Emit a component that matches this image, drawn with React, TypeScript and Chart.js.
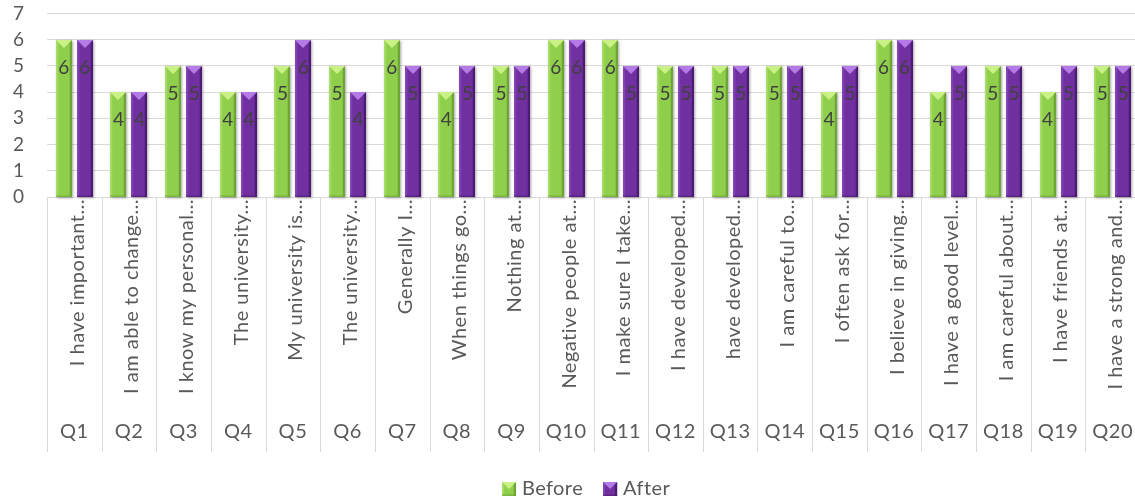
import React, { useEffect, useRef } from "react";
import { Chart, registerables } from "chart.js";

Chart.register(...registerables);

// Survey items, before / after scores
const questions = [
  "Q1", "Q2", "Q3", "Q4", "Q5", "Q6", "Q7", "Q8", "Q9", "Q10",
  "Q11", "Q12", "Q13", "Q14", "Q15", "Q16", "Q17", "Q18", "Q19", "Q20",
];
const statements = [
  "I have important…",
  "I am able to change…",
  "I know my personal…",
  "The university…",
  "My university is…",
  "The university…",
  "Generally I…",
  "When things go…",
  "Nothing at…",
  "Negative people at…",
  "I make sure I take…",
  "I have developed…",
  "have developed…",
  "I am careful to…",
  "I often ask for…",
  "I believe in giving…",
  "I have a good level…",
  "I am careful about…",
  "I have friends at…",
  "I have a strong and…",
];
const beforeScores = [6, 4, 5, 4, 5, 5, 6, 4, 5, 6, 6, 5, 5, 5, 4, 6, 4, 5, 4, 5];
const afterScores = [6, 4, 5, 4, 6, 4, 5, 5, 5, 6, 5, 5, 5, 5, 5, 6, 5, 5, 5, 5];
const seriesNames = ["Before", "After"];
const yMin = 0;
const yMax = 7;

const FONT = "Lato, 'Noto Sans', sans-serif";
const AXIS_TEXT = "#595959";
const LABEL_TEXT = "#404040";
const GRID = "#d9d9d9";

type Palette = { base: string; light: string; dark: string; facet: string };

const palettes: Palette[] = [
  { base: "#90cf4c", light: "#a9dd6a", dark: "#6ea537", facet: "#c9f185" },
  { base: "#7030a0", light: "#8646b8", dark: "#4d1b76", facet: "#b47ae6" },
];

// Paints a box with an angled bevel: lit top facet, light left edge, dark right edge.
function paintBevel(
  ctx: CanvasRenderingContext2D,
  l: number,
  t: number,
  r: number,
  b: number,
  p: Palette,
  shadow = true
) {
  const w = r - l;
  const h = b - t;
  if (w <= 0 || h <= 0) return;
  const cx = (l + r) / 2;
  ctx.save();
  if (shadow) {
    ctx.shadowColor = "rgba(0,0,0,0.35)";
    ctx.shadowBlur = 2.5;
    ctx.shadowOffsetX = 0.8;
    ctx.shadowOffsetY = 0.5;
  }
  ctx.fillStyle = p.base;
  ctx.fillRect(l, t, w, h);
  ctx.restore();

  ctx.save();
  const g = ctx.createLinearGradient(l, 0, r, 0);
  g.addColorStop(0, p.light);
  g.addColorStop(0.18, p.base);
  g.addColorStop(0.78, p.base);
  g.addColorStop(1, p.dark);
  ctx.fillStyle = g;
  ctx.fillRect(l, t, w, h);

  // left and right edge strips
  ctx.fillStyle = p.light;
  ctx.fillRect(l, t, 1.5, h);
  ctx.fillStyle = p.dark;
  ctx.fillRect(r - 2, t, 2, h);
  // bottom lip
  ctx.globalAlpha = 0.6;
  ctx.fillRect(l, b - 1.5, w, 1.5);
  ctx.globalAlpha = 1;

  // top facet
  const depth = Math.min(w * 0.5, h);
  ctx.beginPath();
  ctx.moveTo(l, t);
  ctx.lineTo(r, t);
  ctx.lineTo(cx, t + depth);
  ctx.closePath();
  ctx.fillStyle = p.facet;
  ctx.fill();
  ctx.restore();
}

const bevelBars = {
  id: "bevelBars",
  afterDatasetsDraw(chart: any) {
    const ctx: CanvasRenderingContext2D = chart.ctx;
    const area = chart.chartArea;
    ctx.save();
    ctx.beginPath();
    ctx.rect(area.left - 3, area.top - 3, area.right - area.left + 6, area.bottom - area.top + 6);
    ctx.clip();
    chart.data.datasets.forEach((ds: any, di: number) => {
      const meta = chart.getDatasetMeta(di);
      meta.data.forEach((bar: any) => {
        const { x, y, base, width } = bar.getProps(["x", "y", "base", "width"], true);
        const l = Math.round(x - width / 2);
        const r = Math.round(x + width / 2);
        paintBevel(ctx, l, Math.round(y), r, Math.round(base), palettes[di]);
      });
    });
    // value labels sit just inside the top of each bar
    ctx.fillStyle = LABEL_TEXT;
    ctx.font = `19px ${FONT}`;
    ctx.textAlign = "center";
    ctx.textBaseline = "middle";
    chart.data.datasets.forEach((ds: any, di: number) => {
      const meta = chart.getDatasetMeta(di);
      meta.data.forEach((bar: any, i: number) => {
        const { x, y } = bar.getProps(["x", "y"], true);
        ctx.fillText(String(ds.data[i]), x, y + 28);
      });
    });
    ctx.restore();
  },
};

// Two-level category axis: rotated statements above the question codes, with cell dividers.
const groupedAxis = {
  id: "groupedAxis",
  afterDraw(chart: any) {
    const ctx: any = chart.ctx;
    const xs = chart.scales.x;
    const axisTop = xs.top;
    const axisBottom = xs.bottom;
    const n = chart.data.labels.length;
    ctx.save();
    ctx.strokeStyle = GRID;
    ctx.lineWidth = 1;
    for (let i = 0; i <= n; i++) {
      const px = Math.round(xs.getPixelForValue(i - 0.5)) + 0.5;
      ctx.beginPath();
      ctx.moveTo(px, axisTop);
      ctx.lineTo(px, axisBottom);
      ctx.stroke();
    }
    ctx.fillStyle = AXIS_TEXT;
    ctx.font = `20px ${FONT}`;
    ctx.letterSpacing = "0.5px";
    for (let i = 0; i < n; i++) {
      const cx = xs.getPixelForValue(i);
      ctx.save();
      ctx.translate(cx + 3, axisTop + 2);
      ctx.rotate(-Math.PI / 2);
      ctx.textAlign = "right";
      ctx.textBaseline = "middle";
      ctx.fillText(statements[i], 0, 0);
      ctx.restore();
      ctx.textAlign = "center";
      ctx.textBaseline = "middle";
      ctx.fillText(questions[i], cx, axisBottom - 20);
    }

    // legend
    ctx.font = `20px ${FONT}`;
    ctx.letterSpacing = "0.4px";
    ctx.textAlign = "left";
    ctx.textBaseline = "middle";
    const box = 14;
    const boxGap = 6;
    const itemGap = 20;
    const widths = seriesNames.map((s) => ctx.measureText(s).width);
    const total = widths.reduce((a: number, w: number) => a + box + boxGap + w, 0) + itemGap * (seriesNames.length - 1);
    let lx = Math.round(586 - total / 2);
    const ly = 489;
    seriesNames.forEach((name, i) => {
      paintBevel(ctx, lx, ly - 7, lx + box, ly + 7, palettes[i], false);
      ctx.fillStyle = AXIS_TEXT;
      ctx.fillText(name, lx + box + boxGap, ly);
      lx += box + boxGap + widths[i] + itemGap;
    });
    ctx.restore();
  },
};

export default function App() {
  const ref = useRef<HTMLCanvasElement | null>(null);

  useEffect(() => {
    document.body.style.margin = "0";
    const canvas = ref.current;
    if (!canvas) return;
    const chart = new Chart(canvas, {
      type: "bar",
      data: {
        labels: questions,
        datasets: [
          {
            label: seriesNames[0],
            data: beforeScores,
            backgroundColor: "rgba(0,0,0,0)",
            borderWidth: 0,
            categoryPercentage: 0.77,
            barPercentage: 0.76,
          },
          {
            label: seriesNames[1],
            data: afterScores,
            backgroundColor: "rgba(0,0,0,0)",
            borderWidth: 0,
            categoryPercentage: 0.77,
            barPercentage: 0.76,
          },
        ],
      },
      options: {
        responsive: false,
        animation: false,
        devicePixelRatio: 1,
        layout: { padding: { top: 13.5, right: 2, bottom: 50, left: 0 } },
        plugins: {
          legend: { display: false },
          tooltip: { enabled: false },
        },
        scales: {
          x: {
            grid: { display: false },
            border: { display: false },
            ticks: { display: false },
            afterFit: (scale: any) => {
              scale.height = 255;
            },
          },
          y: {
            min: yMin,
            max: yMax,
            ticks: {
              count: 8,
              autoSkip: false,
              padding: 0,
              color: AXIS_TEXT,
              font: { family: FONT, size: 19, lineHeight: 1 },
            },
            grid: {
              color: GRID,
              lineWidth: 1,
              drawTicks: true,
              tickLength: 23,
              tickColor: "rgba(0,0,0,0)",
            },
            border: { display: false },
            afterFit: (scale: any) => {
              scale.width = 47;
            },
          },
        },
      },
      plugins: [bevelBars, groupedAxis],
    });
    return () => chart.destroy();
  }, []);

  return (
    <div
      style={{
        position: "fixed",
        left: 0,
        top: 0,
        width: 1135,
        height: 502,
        overflow: "hidden",
        background: "#ffffff",
      }}
    >
      <canvas ref={ref} width={1142} height={502} style={{ display: "block" }} />
    </div>
  );
}
